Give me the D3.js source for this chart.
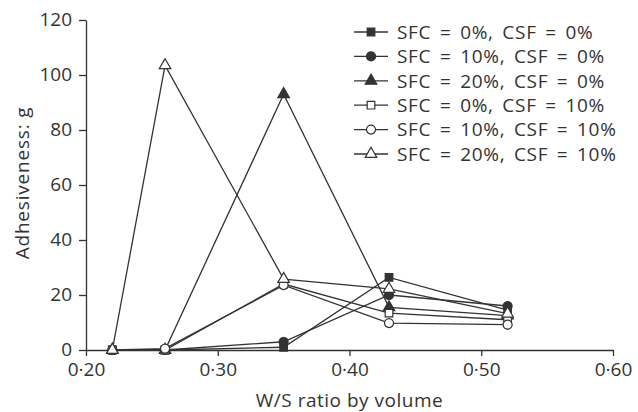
<!DOCTYPE html>
<html>
<head>
<meta charset="utf-8">
<script src="https://cdn.jsdelivr.net/npm/d3@7"></script>
<style>
  body { margin: 0; background: #fff; }
  text { font-family: "Open Sans", "Noto Sans", sans-serif; fill: #333; }
</style>
</head>
<body>
<div id="chart"></div>
<script>
// data
var wsRatio = [0.22, 0.26, 0.35, 0.43, 0.52];
var seriesNames = [
  "SFC = 0%, CSF = 0%",
  "SFC = 10%, CSF = 0%",
  "SFC = 20%, CSF = 0%",
  "SFC = 0%, CSF = 10%",
  "SFC = 10%, CSF = 10%",
  "SFC = 20%, CSF = 10%"
];
var sfc0csf0   = [0, 0, 1, 26.4, 14.5];
var sfc10csf0  = [0, 0, 3, 20, 16];
var sfc20csf0  = [0, 0, 93, 15.5, 12.5];
var sfc0csf10  = [0, 0, 24, 13.4, 11];
var sfc10csf10 = [0, 0.5, 23.6, 9.8, 9.2];
var sfc20csf10 = [0, 103.5, 25.8, 22.2, 13.2];
var yTicks = [0, 20, 40, 60, 80, 100, 120];
var xTicks = [0.2, 0.3, 0.4, 0.5, 0.6];

var allSeries = [sfc0csf0, sfc10csf0, sfc20csf0, sfc0csf10, sfc10csf10, sfc20csf10];
var symbols = [d3.symbolSquare, d3.symbolCircle, d3.symbolTriangle,
               d3.symbolSquare, d3.symbolCircle, d3.symbolTriangle];
var symSize = [58, 64, 58, 58, 64, 58];
var filled = [true, true, true, false, false, false];
var ink = "#333";
var fontSize = "19px";

var margin = { top: 20, right: 25, bottom: 62, left: 86 };
var containerwidth = 638, containerheight = 412;
var width = containerwidth - margin.left - margin.right;
var height = containerheight - margin.top - margin.bottom;

var svg = d3.select("#chart").append("svg")
  .attr("width", containerwidth)
  .attr("height", containerheight);
var g = svg.append("g")
  .attr("transform", "translate(" + margin.left + "," + margin.top + ")");

var xScale = d3.scaleLinear().domain([0.2, 0.6]).range([0, width]);
var yScale = d3.scaleLinear().domain([0, 120]).range([height, 0]);

// axes
var xAxis = d3.axisBottom(xScale)
  .tickValues(xTicks)
  .tickSize(6).tickSizeOuter(0).tickPadding(7)
  .tickFormat(function(d) { return d3.format(".2f")(d).replace(".", "\u00b7"); });
var yAxis = d3.axisLeft(yScale)
  .tickValues(yTicks)
  .tickSize(7).tickSizeOuter(0).tickPadding(7);

var xAxisG = g.append("g").attr("transform", "translate(0," + height + ")").call(xAxis);
var yAxisG = g.append("g").call(yAxis);
[xAxisG, yAxisG].forEach(function(a) {
  a.selectAll("path, line").attr("stroke", ink).attr("stroke-width", 1.3);
  a.selectAll("text").style("font-size", fontSize).attr("fill", ink);
});
yAxisG.selectAll(".tick text").attr("dy", "0.3em");

g.append("text")
  .attr("x", width / 2).attr("y", height + 57)
  .style("text-anchor", "middle").style("font-size", fontSize)
  .style("letter-spacing", "0.5px")
  .text("W/S ratio by volume");
g.append("text")
  .attr("transform", "rotate(-90)")
  .attr("x", -height / 2 + 2).attr("y", -57)
  .style("text-anchor", "middle").style("font-size", fontSize)
  .style("letter-spacing", "0.8px")
  .text("Adhesiveness: g");

// lines
var line = d3.line()
  .x(function(d, i) { return xScale(wsRatio[i]); })
  .y(function(d) { return yScale(d); });
allSeries.forEach(function(s) {
  g.append("path").datum(s)
    .attr("d", line)
    .attr("fill", "none")
    .attr("stroke", ink)
    .attr("stroke-width", 1.3);
});

// markers
allSeries.forEach(function(s, k) {
  g.append("g").selectAll("path")
    .data(s).enter().append("path")
    .attr("transform", function(d, i) {
      return "translate(" + xScale(wsRatio[i]) + "," + yScale(d) + ")";
    })
    .attr("d", d3.symbol().type(symbols[k]).size(symSize[k]))
    .attr("fill", filled[k] ? ink : "#fff")
    .attr("stroke", ink)
    .attr("stroke-width", 1.2);
});

// legend
var legend = svg.append("g").attr("transform", "translate(354,32)");
var item = legend.selectAll("g").data(seriesNames).enter().append("g")
  .attr("transform", function(d, i) { return "translate(0," + i * 24.4 + ")"; });
item.append("line")
  .attr("x1", 0).attr("x2", 34).attr("y1", 0).attr("y2", 0)
  .attr("stroke", ink).attr("stroke-width", 1.3);
item.append("path")
  .attr("transform", "translate(17,0)")
  .attr("d", function(d, i) { return d3.symbol().type(symbols[i]).size(symSize[i])(); })
  .attr("fill", function(d, i) { return filled[i] ? ink : "#fff"; })
  .attr("stroke", ink).attr("stroke-width", 1.2);
item.append("text")
  .attr("x", 43).attr("y", 0).attr("dy", "0.36em")
  .style("font-size", fontSize)
  .style("word-spacing", "3px")
  .style("letter-spacing", "0.7px")
  .text(function(d) { return d; });
</script>
</body>
</html>
